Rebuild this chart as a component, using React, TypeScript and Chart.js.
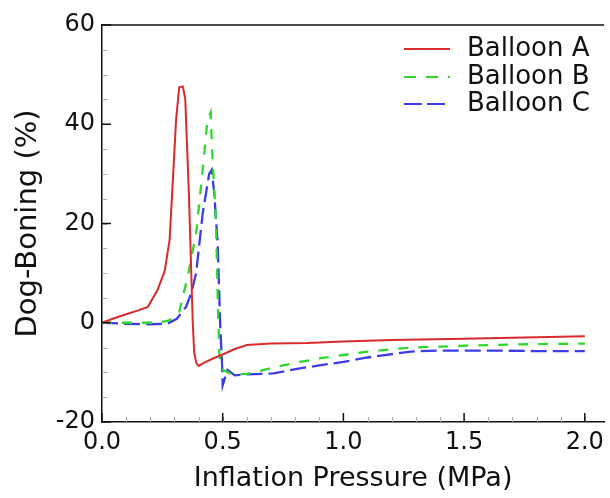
import React, { useEffect, useRef } from "react";
import { Chart, registerables } from "chart.js";

Chart.register(...registerables);

// ---- data ----
const seriesNames = ["Balloon A", "Balloon B", "Balloon C"];

const pressureA = [0, 0.05, 0.1, 0.15, 0.19, 0.23, 0.26, 0.28, 0.295, 0.307, 0.32, 0.335, 0.345, 0.352, 0.36, 0.368, 0.376, 0.382, 0.39, 0.40, 0.43, 0.46, 0.5, 0.55, 0.6, 0.7, 0.85, 1.0, 1.2, 1.5, 1.8, 2.0];
const dogBoneA = [0, 0.9, 1.7, 2.5, 3.2, 6.6, 10.5, 16.7, 30, 41, 47.5, 47.6, 45, 36, 26, 13, 0, -6, -8, -8.7, -7.9, -7.2, -6.4, -5.3, -4.5, -4.2, -4.1, -3.8, -3.5, -3.2, -2.9, -2.7];

const pressureB = [0, 0.1, 0.2, 0.25, 0.28, 0.32, 0.355, 0.39, 0.417, 0.437, 0.45, 0.458, 0.472, 0.479, 0.486, 0.49, 0.5, 0.53, 0.56, 0.6, 0.64, 0.72, 0.82, 0.9, 1.0, 1.1, 1.28, 1.4, 1.6, 1.8, 2.0];
const dogBoneB = [0, 0, 0, 0.2, 0.5, 2.2, 9.3, 18, 30.8, 40.9, 42.4, 32.8, 20.7, 5.9, -6.1, -8, -9.5, -10.2, -10.4, -10.3, -9.9, -8.9, -7.9, -7.2, -6.5, -5.8, -5.0, -4.8, -4.5, -4.3, -4.2];

const pressureC = [0, 0.1, 0.2, 0.27, 0.31, 0.348, 0.37, 0.39, 0.417, 0.444, 0.455, 0.465, 0.479, 0.49, 0.497, 0.5, 0.52, 0.55, 0.6, 0.71, 0.82, 0.9, 1.0, 1.1, 1.28, 1.39, 1.6, 1.8, 2.0];
const dogBoneC = [0, -0.2, -0.3, -0.2, 0.8, 3.2, 6, 10, 22, 30, 30.8, 26, 16, -0.8, -8, -12.6, -9.5, -10.6, -10.4, -10.2, -9.2, -8.6, -7.9, -7.0, -5.8, -5.6, -5.6, -5.7, -5.7];

const xTickValues = [0, 0.5, 1.0, 1.5, 2.0];
const yTickValues = [-20, 0, 20, 40, 60];

const colors = ["#d92b2b", "#2ed62e", "#3d3de8"];
const lineWidths = [2, 2.3, 2.3];
const plotDashes = [[], [10, 10], [16, 6]];
const legendDashes = [[], [12, 10], [18, 5]];

const FONT = "'DejaVu Sans', 'Liberation Sans', Arial, sans-serif";

function pts(xs: number[], ys: number[]) {
  return xs.map((x, i) => ({ x, y: ys[i] }));
}

const framePlugin = {
  id: "frameTicks",
  afterDraw(chart: any) {
    const { ctx, chartArea } = chart;
    const xs = chart.scales.x;
    const ys = chart.scales.y;
    ctx.save();
    // top border
    ctx.strokeStyle = "#111";
    ctx.lineWidth = 1.5;
    ctx.beginPath();
    ctx.moveTo(chartArea.left, chartArea.top);
    ctx.lineTo(chartArea.right, chartArea.top);
    ctx.stroke();
    // minor ticks
    ctx.strokeStyle = "#aaa";
    ctx.lineWidth = 1;
    for (let v = 0.1; v < 2.05; v += 0.1) {
      const px = Math.round(xs.getPixelForValue(v)) + 0.5;
      ctx.beginPath();
      ctx.moveTo(px, chartArea.bottom);
      ctx.lineTo(px, chartArea.bottom - 5);
      ctx.stroke();
    }
    for (let v = -15; v < 60; v += 5) {
      const py = Math.round(ys.getPixelForValue(v)) + 0.5;
      ctx.beginPath();
      ctx.moveTo(chartArea.left, py);
      ctx.lineTo(chartArea.left + 5, py);
      ctx.stroke();
    }
    // major ticks
    ctx.strokeStyle = "#111";
    ctx.lineWidth = 1.5;
    xs.ticks.forEach((t: any) => {
      const px = xs.getPixelForValue(t.value);
      ctx.beginPath();
      ctx.moveTo(px, chartArea.bottom);
      ctx.lineTo(px, chartArea.bottom - 9);
      ctx.stroke();
    });
    ys.ticks.forEach((t: any) => {
      const py = ys.getPixelForValue(t.value);
      ctx.beginPath();
      ctx.moveTo(chartArea.left, py);
      ctx.lineTo(chartArea.left + 9, py);
      ctx.stroke();
    });
    // legend
    const rowY = [49, 77, 104];
    ctx.font = `26px ${FONT}`;
    ctx.textBaseline = "middle";
    ctx.textAlign = "left";
    chart.data.datasets.forEach((ds: any, i: number) => {
      ctx.strokeStyle = ds.borderColor;
      ctx.lineWidth = 2;
      ctx.setLineDash(legendDashes[i]);
      ctx.beginPath();
      ctx.moveTo(404, rowY[i]);
      ctx.lineTo(450, rowY[i]);
      ctx.stroke();
      ctx.setLineDash([]);
      ctx.fillStyle = "#111";
      ctx.fillText(ds.label, 467, rowY[i]);
    });
    ctx.restore();
  },
};

export default function App() {
  const ref = useRef<HTMLCanvasElement | null>(null);
  useEffect(() => {
    if (!ref.current) return;
    const series = [
      pts(pressureA, dogBoneA),
      pts(pressureB, dogBoneB),
      pts(pressureC, dogBoneC),
    ];
    const chart = new Chart(ref.current, {
      type: "line",
      data: {
        datasets: series.map((d, i) => ({
          label: seriesNames[i],
          data: d,
          borderColor: colors[i],
          backgroundColor: colors[i],
          borderWidth: lineWidths[i],
          borderDash: plotDashes[i],
          pointRadius: 0,
          tension: 0,
          fill: false,
        })),
      },
      options: {
        responsive: false,
        animation: false,
        layout: { padding: { top: 25, right: 3, left: 0, bottom: 0 } },
        plugins: { legend: { display: false }, tooltip: { enabled: false } },
        scales: {
          x: {
            type: "linear",
            min: 0,
            max: 2.08,
            afterBuildTicks: (s: any) => {
              s.ticks = xTickValues.map((v) => ({ value: v }));
            },
            afterFit: (s: any) => {
              s.height = 76;
            },
            grid: { display: false, drawTicks: false },
            border: { display: true, color: "#111", width: 1.5 },
            ticks: {
              padding: 6,
              color: "#111",
              font: { family: FONT, size: 24 },
              callback: (v: any) => Number(v).toFixed(1),
              maxRotation: 0,
            },
            title: {
              display: true,
              text: "Inflation Pressure (MPa)",
              color: "#111",
              font: { family: FONT, size: 27 },
              padding: { top: 0, bottom: 3 },
            },
          },
          y: {
            type: "linear",
            min: -20,
            max: 60,
            afterBuildTicks: (s: any) => {
              s.ticks = yTickValues.map((v) => ({ value: v }));
            },
            afterFit: (s: any) => {
              s.width = 102;
            },
            grid: { display: false, drawTicks: false },
            border: { display: true, color: "#111", width: 1.5 },
            ticks: {
              padding: 7,
              color: "#111",
              font: { family: FONT, size: 24 },
              callback: (v: any) => String(v),
            },
            title: {
              display: true,
              text: "Dog-Boning (%)",
              color: "#111",
              font: { family: FONT, size: 29 },
              padding: { top: 11, bottom: 0 },
            },
          },
        },
      },
      plugins: [framePlugin],
    });
    return () => chart.destroy();
  }, []);
  return (
    <div style={{ position: "fixed", left: 0, top: 0, width: 610, height: 498, background: "#fff" }}>
      <canvas ref={ref} width={610} height={498} />
    </div>
  );
}
